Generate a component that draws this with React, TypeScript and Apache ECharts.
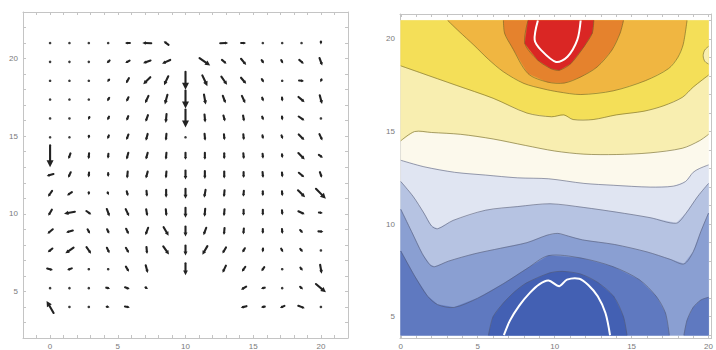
import React, { useEffect, useRef } from "react";
import * as echarts from "echarts";

// ---------- Vector field (left) ----------
const colX = [0, 1.43, 2.86, 4.29, 5.71, 7.14, 8.57, 10, 11.43, 12.86, 14.29, 15.71, 17.14, 18.57, 20];
const rowY = [21, 19.79, 18.57, 17.36, 16.14, 14.93, 13.71, 12.5, 11.29, 10.07, 8.86, 7.64, 6.43, 5.21, 4];

// arrow length (px) per row (top -> bottom) and column; null = no arrow
const arrowLen: (number | null)[][] = [
  [1.5, 1.5, 1.5, 1.5, 5, 9, 6, null, null, 8, 5, 1.5, 1.5, 1.5, 3],
  [1.5, 1.5, 1.5, 4, 5, 8, 9, null, 13, 6, 8, 4, 4, 6, 8],
  [1.5, 1.5, 1.5, 3, 6, 10, 10, 18, 12, 10, 8, 4, 1.5, 5, 3],
  [1.5, 1.5, 1.5, 4, 5, 8, 10, 18, 10, 8, 8, 4, 4, 8, 9],
  [1.5, 1.5, 3, 4, 5, 7, 9, 18, 8, 6, 6, 4, 4, 7, 2],
  [1.5, 2, 3, 4, 6, 7, 7, 2, 7, 6, 6, 4, 4, 8, 7],
  [22, 6, 6, 5, 7, 7, 7, 7, 7, 6, 6, 5, 4, 9, 5],
  [7, 6, 5, 4, 7, 7, 7, 9, 8, 7, 6, 6, 5, 7, 6],
  [7, 6, 3, 3, 5, 6, 8, 10, 8, 7, 6, 5, 5, 10, 14],
  [7, 11, 6, 8, 8, 7, 7, 10, 8, 7, 6, 6, 5, 7, 4],
  [7, 7, 5, 5, 6, 8, 10, 10, 8, 7, 6, 5, 5, 4, 5],
  [6, 10, 8, 6, 6, 7, 10, 10, 10, 7, 5, 4, 4, 4, 2],
  [6, 5, 2, 2, 6, 8, null, 12, null, 8, 6, 5, 2, 4, 9],
  [1.5, 2, 2, 4, 5, 3, null, null, null, null, 6, 4, 2, 4, 13],
  [14, 1.5, 2, 3, 5, null, null, null, null, null, 6, 4, 5, 7, 2],
];

// arrow direction (degrees, 0 = right, 90 = up)
const arrowAng: number[][] = [
  [-90, -90, -90, -90, 180, 178, 145, 0, 0, 2, 0, -90, -90, -90, -90],
  [-90, -90, -90, -135, -150, -160, -155, 0, -35, -40, -50, -55, -60, -40, -70],
  [-90, -90, -90, -130, -120, -135, -115, -90, -65, -55, -50, -60, -90, -5, -115],
  [-90, -90, -90, -120, -115, -115, -105, -90, -80, -70, -65, -70, -85, -40, -75],
  [-90, -90, -110, -115, -110, -110, -95, -90, -85, -75, -80, -70, -85, -35, -45],
  [-90, -90, -95, -110, -110, -105, -95, -90, -85, -85, -85, -80, -70, -45, -65],
  [-90, -110, -95, -95, -105, -105, -95, -90, -90, -90, -85, -85, -85, -45, -35],
  [-165, -115, -95, -90, -95, -105, -95, -90, -90, -90, -90, -85, -85, -40, -70],
  [-125, -145, -90, -70, -75, -85, -90, -90, -100, -95, -95, -90, -85, -45, -45],
  [-120, -170, -35, -70, -65, -80, -85, -90, -95, -95, -90, -90, -85, -25, -5],
  [-140, -165, -60, -65, -65, -110, -60, -90, -110, -95, -95, -90, -85, -45, -3],
  [-140, -145, -55, -65, -60, -85, -55, -90, -120, -120, -120, -95, -60, -50, -90],
  [-15, -160, -90, -90, -60, -75, 0, -90, 0, -115, -125, -125, -90, -55, -80],
  [-90, -90, -90, -15, -20, -30, 0, 0, 0, 0, -150, -165, -90, -45, -40],
  [120, -90, -90, -10, -10, 0, 0, 0, 0, 0, -165, -170, -155, -20, -90],
];

// ---------- Contour plot (right) ----------
const lineA1 = [[0, 14.5], [0.9, 15.0], [2, 14.95], [3.9, 14.85], [6, 14.6], [8.1, 14.25], [10, 13.95], [11.9, 13.78], [14, 13.76], [16.2, 13.85], [18.3, 14.1], [19.4, 14.5], [20, 14.85]];
const lineA2 = [[0, 18.55], [1.2, 18.2], [3.6, 17.5], [6, 16.8], [8.2, 16.0], [9.8, 15.8], [10.6, 15.9], [11.2, 15.65], [12.5, 15.65], [14, 15.9], [15.8, 16.1], [17.1, 16.4], [18.3, 16.85], [19, 17.4], [20, 18.05]];
const lineA3 = [[3.05, 21], [3.8, 20.4], [4.75, 19.67], [5.7, 18.9], [6.67, 18.23], [8, 17.6], [9.3, 17.3], [10.2, 17.15], [11.7, 17.0], [13.8, 17.2], [15.9, 17.75], [17.4, 18.4], [18.0, 19.0], [18.35, 19.7], [18.6, 21]];
const lineA4 = [[6.67, 21], [6.75, 20.3], [7.2, 19.6], [8.27, 18.13], [9.55, 17.67], [10.62, 17.62], [11.69, 17.95], [12.76, 18.49], [13.72, 19.4], [14.25, 20.31], [14.47, 21]];
const lineA5 = [[8.27, 21], [8.06, 19.76], [8.91, 18.85], [9.76, 18.4], [10.3, 18.31], [11.05, 18.67], [11.9, 19.58], [12.44, 20.31], [12.54, 21]];
const whiteTop = [[8.91, 21], [8.7, 19.95], [9.12, 19.4], [10.09, 18.76], [10.83, 19.04], [11.47, 19.95], [11.69, 21]];
const bumpTopRight = [[20, 19.6], [19.75, 19.4], [19.65, 19.1], [19.75, 18.8], [20, 18.65]];
const lineB1 = [[0, 13.45], [1.5, 13.1], [3.5, 12.8], [5.5, 12.65], [7.6, 12.5], [9.6, 12.45], [11.9, 12.2], [13.8, 12.1], [16.2, 12.0], [17.7, 12.05], [18.5, 12.3], [19.0, 12.8], [19.4, 13.0], [20, 13.2]];
const lineB2 = [[0, 12.3], [0.8, 11.5], [1.5, 10.6], [2.0, 9.9], [2.4, 9.75], [3.4, 10.2], [5.5, 10.75], [7.6, 10.95], [9.7, 11.1], [11.9, 10.9], [14, 10.65], [16.2, 10.35], [17.9, 10.05], [18.5, 10.55], [19.3, 11.5], [20, 12.2]];
const lineB3 = [[0, 10.8], [0.7, 9.6], [1.4, 8.4], [1.9, 7.8], [2.2, 7.7], [3.1, 8.0], [4.8, 8.4], [6.5, 8.7], [8.2, 9.0], [9.5, 9.4], [10.2, 9.5], [10.9, 9.35], [11.8, 9.15], [13.9, 8.9], [16, 8.5], [17.5, 8.1], [18.4, 7.85], [19.0, 8.5], [19.5, 9.6], [20, 10.6]];
const lineB4 = [[0, 8.55], [0.9, 7.2], [1.75, 6.1], [2.4, 5.65], [3.46, 5.5], [5, 6.0], [6.7, 6.8], [8.2, 7.6], [9.6, 8.3], [11.7, 8.17], [13.8, 7.7], [15.5, 7.0], [16.6, 6.1], [17.2, 5.2], [17.45, 4]];
const bumpBottomRight = [[18.4, 4], [18.6, 4.8], [19.0, 5.5], [19.5, 5.9], [20, 6.05]];
const lineB5 = [[5.7, 4], [6.0, 5.0], [6.67, 5.74], [7.4, 6.35], [8.16, 6.82], [9.66, 7.36], [10.5, 7.45], [11.7, 7.3], [12.8, 6.85], [13.83, 6.1], [14.47, 5.0], [14.7, 4]];
const whiteBottom = [[6.7, 4], [7.1, 4.8], [7.7, 5.6], [8.4, 6.3], [9.0, 6.75], [9.6, 6.95], [10.3, 6.65], [10.8, 7.0], [11.6, 7.05], [12.2, 6.7], [12.8, 6.1], [13.3, 5.2], [13.6, 4]];

const bandColors = {
  cream: "#fcf9ec",
  veryLightBlue: "#e0e5f2",
  lightBlue: "#b6c3e2",
  mediumBlue: "#8a9fd2",
  darkBlue: "#5f79c0",
  darkestBlue: "#4360b3",
  lightYellow: "#f8eeb0",
  yellow: "#f4df58",
  gold: "#f0b641",
  darkOrange: "#e5822d",
  red: "#da2624",
};

const frameColor = "#c4c4c4";
const labelStyle = { color: "#7a7a7a", fontSize: 8, fontFamily: "Liberation Sans, Arial, sans-serif" };

function range(a: number, b: number) {
  const r: number[] = [];
  for (let v = a; v <= b; v++) r.push(v);
  return r;
}

function mkAxis(kind: "x" | "y", gridIndex: number, min: number, max: number, position: string, ticks: number[], labels: number[] | null) {
  return {
    type: "value",
    gridIndex,
    min,
    max,
    position,
    axisLine: { show: true, onZero: false, lineStyle: { color: frameColor, width: 1 } },
    axisTick: { show: true, inside: true, length: 3, customValues: ticks, lineStyle: { color: frameColor } },
    axisLabel: labels
      ? { show: true, customValues: labels, margin: kind === "x" ? 4 : 5, ...labelStyle }
      : { show: false },
    splitLine: { show: false },
  };
}

export default function App() {
  const ref = useRef<HTMLDivElement>(null);
  useEffect(() => {
    const chart = echarts.init(ref.current!, null, { renderer: "svg" });

    const arrowData: number[][] = [];
    rowY.forEach((y, r) => {
      colX.forEach((x, c) => {
        const len = arrowLen[r][c];
        if (len != null) arrowData.push([x, y, len, arrowAng[r][c]]);
      });
    });

    const top = 21, bottom = 4, left = 0, right = 20;
    const regions: { pts: number[][]; fill: string }[] = [
      { pts: [[left, bottom], [right, bottom], [right, top], [left, top]], fill: bandColors.cream },
      { pts: [...lineB1, [right, bottom], [left, bottom]], fill: bandColors.veryLightBlue },
      { pts: [...lineB2, [right, bottom], [left, bottom]], fill: bandColors.lightBlue },
      { pts: [...lineB3, [right, bottom], [left, bottom]], fill: bandColors.mediumBlue },
      { pts: [...lineB4, [left, bottom]], fill: bandColors.darkBlue },
      { pts: [...bumpBottomRight, [right, bottom]], fill: bandColors.darkBlue },
      { pts: lineB5, fill: bandColors.darkestBlue },
      { pts: [...lineA1, [right, top], [left, top]], fill: bandColors.lightYellow },
      { pts: [...lineA2, [right, top], [left, top]], fill: bandColors.yellow },
      { pts: bumpTopRight, fill: bandColors.lightYellow },
      { pts: lineA3, fill: bandColors.gold },
      { pts: lineA4, fill: bandColors.darkOrange },
      { pts: lineA5, fill: bandColors.red },
    ];
    const lines: { pts: number[][]; color: string; width: number }[] = [
      ...[lineA1, lineA2, lineA3, lineA4, lineA5, bumpTopRight].map((p) => ({ pts: p, color: "rgba(110,100,40,0.6)", width: 1 })),
      ...[lineB1, lineB2, lineB3, lineB4, bumpBottomRight, lineB5].map((p) => ({ pts: p, color: "rgba(80,85,110,0.55)", width: 1 })),
      { pts: whiteTop, color: "#ffffff", width: 2 },
      { pts: whiteBottom, color: "#ffffff", width: 2 },
    ];

    const option = {
      animation: false,
      backgroundColor: "#ffffff",
      grid: [
        { left: 23, top: 12, width: 325, height: 326 },
        { left: 400, top: 14, width: 316, height: 324.5 },
      ],
      xAxis: [
        mkAxis("x", 0, -2, 22, "bottom", range(-2, 22), [0, 5, 10, 15, 20]),
        mkAxis("x", 0, -2, 22, "top", range(-2, 22), null),
        mkAxis("x", 1, -0.05, 20.2, "bottom", range(0, 20), [0, 5, 10, 15, 20]),
        mkAxis("x", 1, -0.05, 20.2, "top", range(0, 20), null),
      ],
      yAxis: [
        mkAxis("y", 0, 2, 23, "left", range(2, 23), [5, 10, 15, 20]),
        mkAxis("y", 0, 2, 23, "right", range(2, 23), null),
        mkAxis("y", 1, 3.85, 21.35, "left", range(4, 21), [5, 10, 15, 20]),
        mkAxis("y", 1, 3.85, 21.35, "right", range(4, 21), null),
      ],
      series: [
        {
          type: "custom",
          xAxisIndex: 0,
          yAxisIndex: 0,
          data: arrowData,
          renderItem: (params: any, api: any) => {
            const x = api.value(0), y = api.value(1), len = api.value(2), ang = api.value(3);
            const c = api.coord([x, y]);
            const color = "#222222";
            if (len < 2.5) {
              return { type: "circle", shape: { cx: c[0], cy: c[1], r: 1.3 }, style: { fill: "#3a3a3a" } };
            }
            const rad = (ang * Math.PI) / 180;
            const ux = Math.cos(rad), uy = -Math.sin(rad);
            const x0 = c[0] - (ux * len) / 2, y0 = c[1] - (uy * len) / 2;
            const x1 = c[0] + (ux * len) / 2, y1 = c[1] + (uy * len) / 2;
            const hl = Math.max(2.8, Math.min(len * 0.4, 7));
            const hw = hl * 0.5;
            const bx = x1 - ux * hl, by = y1 - uy * hl;
            return {
              type: "group",
              children: [
                { type: "line", shape: { x1: x0, y1: y0, x2: bx + ux * 0.5, y2: by + uy * 0.5 }, style: { stroke: color, lineWidth: 2.1, lineCap: "round" } },
                {
                  type: "polygon",
                  shape: { points: [[x1, y1], [bx - uy * hw, by + ux * hw], [bx + uy * hw, by - ux * hw]] },
                  style: { fill: color },
                },
              ],
            };
          },
        },
        {
          type: "custom",
          xAxisIndex: 2,
          yAxisIndex: 2,
          clip: true,
          data: regions.map((_, i) => [10, 12, i]),
          renderItem: (params: any, api: any) => {
            const reg = regions[params.dataIndex];
            return {
              type: "polygon",
              shape: { points: reg.pts.map((p) => api.coord(p)) },
              style: { fill: reg.fill, stroke: reg.fill, lineWidth: 0.5 },
            };
          },
        },
        {
          type: "custom",
          xAxisIndex: 2,
          yAxisIndex: 2,
          clip: true,
          data: lines.map((_, i) => [10, 12, i]),
          renderItem: (params: any, api: any) => {
            const ln = lines[params.dataIndex];
            return {
              type: "polyline",
              shape: { points: ln.pts.map((p) => api.coord(p)), smooth: 0.3 },
              style: { stroke: ln.color, lineWidth: ln.width, fill: "none" },
            };
          },
        },
      ],
    };
    chart.setOption(option as any);
    return () => chart.dispose();
  }, []);
  return <div ref={ref} style={{ position: "absolute", left: 0, top: 0, width: 716, height: 350 }} />;
}
